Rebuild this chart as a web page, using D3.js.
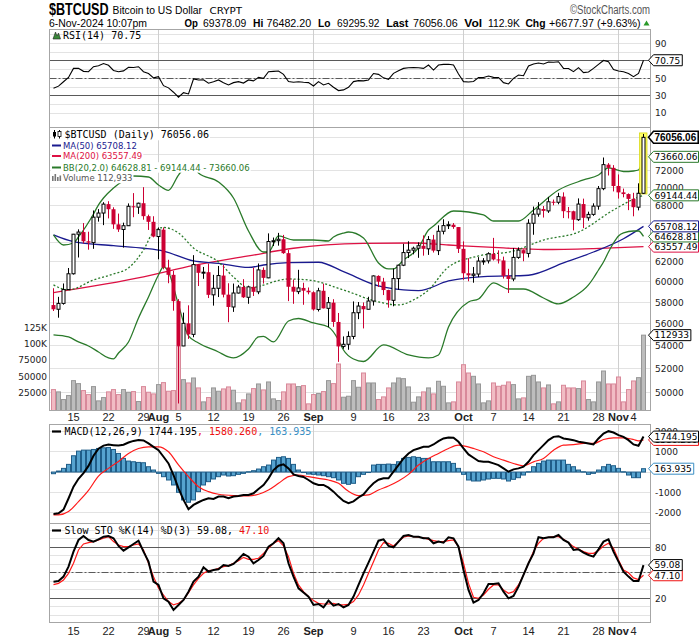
<!DOCTYPE html>
<html><head><meta charset="utf-8">
<script src="https://cdn.jsdelivr.net/npm/d3@7/dist/d3.min.js"></script>
<style>html,body{margin:0;padding:0;background:#fff;}svg{display:block;}</style>
</head><body>
<svg id="chart" width="700" height="639"></svg>
<script>
// ===================== DATA =====================
const firstDate = "2024-07-11";
const lastDate = "2024-11-06";

const opens = [57742,57344,57899,59231,60787,64870,65097,64118,63974,66710,
67163,68154,67585,65927,65372,65777,67912,67813,68255,66819,
66201,64619,65357,61415,60680,58116,53991,56034,55027,61710,
60881,60945,58719,59354,60609,58737,57560,58894,59478,58483,
59493,59012,61175,60381,64094,64178,64333,62880,59504,59027,
59388,59119,58969,57325,59112,57431,57971,56160,53948,54139,
54841,57019,57648,57343,58127,60571,60005,59182,58192,60308,
61649,62940,63192,63394,63648,63329,64301,63143,65181,65790,
65887,65635,63329,60837,60632,60759,62067,62089,62818,62236,
62131,60582,60274,62445,63193,62851,66046,67041,67612,67399,
68418,68362,69002,67367,67361,66432,68161,66642,67014,67929,
69907,72720,72339,70215,69482,69289,68742,67811,69378.09];
const highs = [59359,58526,59824,61366,64900,65388,66066,65133,67442,67598,
68372,68480,67800,67102,66110,68234,69399,68318,70079,66987,
66810,65593,65596,62198,61077,58306,57029,57717,62673,61770,
61470,61818,60680,61572,61687,59847,59817,59686,60252,59608,
61396,61820,61424,64955,64513,65009,64795,63213,60214,61184,
59896,59433,59062,59403,59810,58511,58300,56996,54843,55300,
58088,58029,57992,58534,60625,60633,60381,59210,61316,61689,
63850,64119,63559,64006,64745,64670,64798,65820,66480,66260,
66067,65635,64110,62365,61468,62470,62370,62970,64478,63174,
62523,61284,63417,63480,63263,66482,67881,68375,67939,68969,
68668,69431,69487,67836,67420,68798,68772,67315,68246,70212,
73577,72905,72662,71559,69916,69362,69433,70522,76482.20];
const lows = [57178,56555,57779,59194,60704,62433,63896,63238,63329,66222,
65842,66573,65440,65111,63456,65756,66705,67066,66429,65323,
64532,62248,61236,59850,57210,49121,53973,54620,54767,59574,
60284,58410,57688,58506,58472,56138,57098,58851,58418,57862,
58610,58783,59815,60345,63619,63659,62810,58116,57860,58787,
57768,58768,57218,57136,57420,55673,55712,52598,53745,53653,
54591,56419,55567,57330,57690,59480,58697,57493,57628,59209,
61555,62376,62758,62400,62623,62700,62946,62685,64852,65422,
65442,62896,60190,60043,59900,60460,61689,61824,62128,61821,
60311,58895,60046,62300,62050,62442,64809,66758,66666,67178,
68021,68137,66608,66571,65275,66300,65521,66321,66853,67535,
69729,71436,69590,68779,68918,67482,66803,67459,69295.92];
const closes = [57344,57899,59231,60787,64870,65097,64118,63974,66710,67163,
68154,67585,65927,65372,65777,67912,67813,68255,66819,66201,
64619,65357,61415,60680,58116,53991,56034,55027,61710,60881,
60945,58719,59354,60609,58737,57560,58894,59478,58483,59493,
59012,61175,60381,64094,64178,64333,62880,59504,59027,59388,
59119,58969,57325,59112,57431,57971,56160,53948,54139,54841,
57019,57648,57343,58127,60571,60005,59182,58192,60308,61649,
62940,63192,63394,63648,63329,64301,63143,65181,65790,65887,
65635,63329,60837,60632,60759,62067,62089,62818,62236,62131,
60582,60274,62445,63193,62851,66046,67041,67612,67399,68418,
68362,69002,67367,67361,66432,68161,66642,67014,67929,69907,
72720,72339,70215,69482,69289,68742,67811,69378.09,76056.06];
const volumes = [30240,26760,15120,21170,43850,39310,28730,22680,34780,13100,
18140,26760,30240,22680,30240,26210,27220,12100,34780,26210,
23690,37800,40820,27720,28730,95700,45360,40320,47880,32760,
11590,18140,32760,27720,31250,34270,29230,10080,14620,23690,
31750,38800,29740,41830,16130,13600,26760,38800,38800,34780,
36290,8570,22680,24190,27220,43850,39310,69070,18650,20160,
43850,33770,55440,40320,40320,15120,19150,32760,40320,47880,
46870,34270,11090,19150,26710,32760,23690,42840,35280,10080,
11590,41830,68040,55440,50400,38800,10080,13100,40320,35280,
36790,41830,37800,16130,17640,50400,51910,41830,32760,37300,
8570,11590,36790,32760,32760,31750,43340,15120,11590,41830,
58460,38800,38800,49380,11590,30240,43340,48380,112933];

// Overlay lines: day index into the date list, value
const ma50Days   = [0,4,12,18,22,28,33,39,42,47,53,58,65,70,73,79,86,95,102,108,114,118];
const ma50Values = [64790,64080,63660,63390,63100,62080,61840,61420,61670,61900,61950,61000,59580,59190,59120,60070,60500,60640,61875,63000,64390,65708.12];
const ma200Days   = [0,18,28,39,48,62,72,79,90,98,108,118];
const ma200Values = [58940,60470,61620,62590,63390,63890,63940,63730,63420,63260,63360,63557.49];
const bbMidDays   = [0,3,8,12,15,18,20,22,25,28,33,36,39,47,51,58,65,69,72,75,79,85,92,98,105,112,117,118];
const bbMidValues = [59680,59190,60170,60770,61370,63210,65100,65590,65000,63420,61980,60470,59390,60270,60170,59190,58040,57750,58230,59190,61470,62590,63100,64250,65100,67500,68950,69144.44];
const bbUpDays   = [0,2,4,5,8,9,10,12,13,14,16,19,21,23,25,27,28,29,33,36,39,42,43,45,48,52,55,56,58,59,62,65,67,68,70,73,75,76,80,86,88,93,96,101,106,109,111,114,116,117,118];
const bbUpValues = [64790,63730,63940,64575,67055,68070,68840,69985,70450,70790,71375,71260,70330,69720,71490,72700,72580,71720,70680,68840,65210,63000,63000,64680,64255,64255,64150,64575,64995,65105,64470,61875,61270,61270,62180,63420,65320,65740,67390,66950,66290,66290,67500,69750,70910,71490,72330,71905,71965,72083,73660.06];
const bbLoDays   = [0,3,5,7,9,11,12,13,15,17,19,21,22,23,25,27,29,33,35,36,39,41,42,44,47,49,52,55,57,58,60,62,66,71,75,77,79,83,85,88,91,94,98,101,104,107,108,109,110,111,112,113,114,116,117,118];
const bbLoValues = [54980,54794,54346,53990,53460,52935,52848,53372,54346,56530,58514,60668,61470,60968,57750,54885,54256,53460,53022,52935,53723,54794,54840,54346,56252,56483,56069,55700,54523,53634,52848,52631,54078,53197,52935,53197,55700,58036,58320,59875,59287,59287,58417,57845,58514,59679,60367,61166,61975,63000,63940,64680,65000,65212,65212,64628.81];

const rsi = [38.5,41,46,51,61.4,61.5,58,57.6,63.3,64.5,
67,65,59,57.5,58.5,62.6,62.4,63.3,57.6,55.5,
50.5,51.9,41.5,39,34,28.3,33.5,32,49.2,48,
48.3,44.3,46,48.1,45,42.4,45,46.2,44.5,48.1,
47,51.1,50,57.6,58,58.4,54.5,46.2,45.4,46,
45.4,45,41.2,46.2,42.4,44.3,39.7,35.9,36.7,39.7,
46.2,47.3,47,48.1,55.5,54.5,50.5,48.9,55.7,58.8,
61.4,62.2,62.4,62.2,61.4,65.2,59.5,65.2,66,66.2,
65.2,55,46.2,45.8,46.3,50.8,51,52.7,51.1,51,
45,43.5,50,53.8,53,64.1,66.4,67.5,66.4,68.7,
68.5,69,61.4,61.3,57.6,62.2,56.5,57.2,61.4,66,
70.5,69,60,58.4,57.5,55.5,51.9,55.7,70.75];

const macd = [-2060,-2025,-1850,-1300,-720,-330,-50,300,800,1150,
1300,1350,1323,1300,1340,1450,1530,1570,1552,1405,
1241,1078,751,425,-147,-800,-1372,-1829,-1617,-1486,
-1372,-1290,-1323,-1208,-1208,-1290,-1208,-1176,-1127,-1127,
-1045,-833,-637,-310,98,310,376,180,-114,-196,
-245,-392,-555,-637,-637,-768,-964,-1208,-1421,-1535,
-1440,-1250,-1100,-800,-550,-380,-310,-310,16,343,
669,915,1078,1160,1241,1241,1356,1519,1650,1699,
1683,1487,1160,866,702,539,506,506,425,343,
180,16,131,180,261,506,833,1078,1323,1568,
1731,1764,1650,1617,1568,1487,1454,1405,1356,1650,
1895,2009,1943,1813,1731,1568,1356,1290,1744.195];
const signalDays   = [0,1,3,5,7,9,11,13,15,17,19,21,23,25,27,29,31,33,36,39,41,43,45,47,49,51,53,55,57,59,61,63,65,67,69,71,73,75,77,79,81,82,84,86,88,90,92,94,96,98,100,102,104,106,108,110,112,114,116,117,118];
const signalValues = [-2107,-2107,-1943,-1454,-900,-200,180,520,915,1160,1241,1241,996,350,-229,-719,-964,-1094,-1160,-1176,-1094,-882,-555,-229,-147,-229,-310,-392,-555,-950,-1160,-1127,-882,-686,-441,-114,343,669,915,1160,1323,1290,1160,996,751,588,420,310,500,669,1070,1323,1350,1405,1405,1600,1680,1683,1600,1530,1580.26];
const macdHist = [-82,49,180,376,800,1029,1078,1078,1110,1160,
1192,1208,1110,914,670,539,506,474,457,261,
98,-65,-229,-392,-637,-996,-1372,-1486,-1372,-964,
-637,-474,-343,-229,-147,-196,-180,-114,-65,16,
65,147,261,343,588,719,751,670,376,98,
-16,-98,-114,-147,-180,-229,-278,-392,-555,-604,
-555,-229,-114,-16,343,376,376,392,376,506,
670,719,751,719,670,670,506,506,506,506,
425,180,-114,-392,-441,-441,-392,-343,-310,-310,
-343,-441,-359,-278,-147,16,261,425,539,588,
588,588,588,376,261,98,16,-114,-65,98,
261,376,310,180,16,-147,-278,-278,163.935];

const stoK = [39.6,40.4,45.5,57.3,74.9,88.6,93.3,88.6,86.7,89.4,
92.5,93.3,90.6,81.6,76.1,80,83.9,87.8,74.9,63.1,
39.6,35.7,20,16.1,6.3,12.2,18,27.8,39.6,45.5,
56.5,51.4,53.3,54.1,59.2,58,60.4,65.9,72.2,69,
61.2,65.1,69.8,80.8,84.7,90.6,84.7,61.2,45.5,31.8,
26.7,22,12.2,13.3,9.4,17.3,11.4,13.3,9.4,12.2,
22,35.7,49.4,62,74.9,87.8,89.4,81.6,80,86.7,
93.3,94.5,92.5,92.5,90.6,90.6,84.7,86.7,85.5,91.8,
90.6,80.8,53.3,29.8,14.9,18,25.9,36.9,36.9,37.6,
27.8,20,22.7,33.7,47.5,61.2,72.9,91.8,90.6,91.8,
91.8,94.5,88.6,85.5,76.9,77.6,73.7,71,69,77.6,
86.7,89.4,74.9,63.1,51.4,45.5,40.4,40.4,59.08];
const stoD = [36,37.6,41.6,49.4,61.2,76.9,83.9,85.5,86.7,88.6,
90.6,92.5,86.7,82.7,80.8,80.8,82.7,83.9,76.9,61.2,
45.5,31.8,23.9,16.1,12.2,14.1,18,26.7,35.7,43.5,
49.4,52.5,53.3,55.3,57.3,58.4,61.2,64.3,68.2,65.9,
65.9,67.1,72.9,78.8,84.7,87.8,81.6,69,49.4,35.7,
27.8,22,17.3,14.1,13.3,13.3,14.1,12.2,12.2,12.8,
16.1,23.9,35.7,49.4,63.1,76.9,85.5,84.7,81.6,86.7,
91.8,93.3,92.5,91.8,91.4,89.4,87.8,86.7,86.7,87.8,
88.6,80.8,61.2,37.6,21.2,20,23.9,30.6,35.7,35.7,
29.8,25.9,27.8,35.7,47.5,61.2,74.9,84.7,90.6,91.8,
92.5,92.5,89.4,85.5,80.8,77.6,74.9,72.9,72.9,76.1,
81.6,84.7,78.8,65.1,53.3,50,44,42,47.10];

// ticks and labels
const priceTicks = [50000,52000,54000,56000,58000,60000,62000,64000,66000,68000,70000,72000,74000,76000];
const volTicks = [25000,50000,75000,100000,125000];
const volTickLabels = ["25000","50000","75000","100K","125K"];
const rsiTicks = [10,30,50,70,90];
const macdTicks = [-2000,-1000,0,1000,2000];
const stoTicks = [20,80];
const weekLabelDates = ["2024-07-15","2024-07-22","2024-07-29","2024-08-05","2024-08-12","2024-08-19","2024-08-26","2024-09-09","2024-09-16","2024-09-23","2024-10-07","2024-10-14","2024-10-21","2024-10-28","2024-11-04"];
const monthLabelDates = ["2024-08-01","2024-09-01","2024-10-01","2024-11-01"];
const monthLabels = ["Aug","Sep","Oct","Nov"];

// ===================== DRAWING =====================
const svg = d3.select("#chart");
const parseD = d3.utcParse("%Y-%m-%d");
const dates = d3.utcDay.range(parseD(firstDate), d3.utcDay.offset(parseD(lastDate), 1));
const n = dates.length;
const x = d3.scaleUtc().domain([dates[0], dates[n-1]]).range([53.5, 643.5]);
const PL = 49.5, PR = 650.5;
const P = { rsi:[29.5,127.5], main:[127.5,410.5], macd:[424.5,523.5], sto:[523.5,622.5] };

const yR = d3.scaleLinear().domain([0,100]).range([121.8,34.8]);
const yP = d3.scaleLog().domain([50000,72000]).range([392.7,170.7]);
const yV = d3.scaleLinear().domain([0,125000]).range([409.5,327.2]);
const yM = d3.scaleLinear().domain([-2000,1000]).range([512.7,451.7]);
const yS = d3.scaleLinear().domain([20,80]).range([598.3,547.3]);

const GRID = "#e3e3e3", MONTH = "#cfcfcf", DARK = "#5a5a5a", BORDER = "#a6a6a6";
const RED = "#cc0033", NAVY = "#1a1a8f", MA200C = "#dd1144", GREEN = "#2a7a2a", STEEL = "#3a8fc4";
const AX = "DejaVu Sans", MONO = "DejaVu Sans Mono", NARROW = "'Liberation Sans Narrow','Liberation Sans',Arial,sans-serif";
const crisp = v => Math.round(v - 0.5) + 0.5;
const last = a => a[a.length-1];

// value tags per panel (drawn last), used to hide axis labels that they cover
const tags = [
  {y: yR(last(rsi)), t: last(rsi).toFixed(2), c: "#000"},
  {y: yP(last(bbMidValues)), t: last(bbMidValues).toFixed(2), c: GREEN},
  {y: yP(last(ma200Values)), t: last(ma200Values).toFixed(2), c: MA200C},
  {y: yP(last(bbLoValues)), t: last(bbLoValues).toFixed(2), c: GREEN},
  {y: yP(last(ma50Values)), t: last(ma50Values).toFixed(2), c: NAVY},
  {y: yP(last(bbUpValues)), t: last(bbUpValues).toFixed(2), c: GREEN},
  {y: yP(last(closes)), t: last(closes).toFixed(2), c: "#000", bold: true},
  {y: yV(last(volumes)), t: String(last(volumes)), c: "#000"},
  {y: yM(last(macdHist)), t: last(macdHist).toFixed(3), c: STEEL},
  {y: yM(last(signalValues)), t: last(signalValues).toFixed(3), c: "#ee1111"},
  {y: yM(last(macd)), t: last(macd).toFixed(3), c: "#000"},
  {y: yS(last(stoD)), t: last(stoD).toFixed(2), c: "#ee1111"},
  {y: yS(last(stoK)), t: last(stoK).toFixed(2), c: "#000"}
];
const coveredByTag = yy => tags.some(t => Math.abs(t.y - yy) < 5);

// clip paths
const defs = svg.append("defs");
Object.entries(P).forEach(([k,[t,b]]) => {
  defs.append("clipPath").attr("id","clip-"+k).append("rect")
    .attr("x",PL).attr("y",t).attr("width",PR-PL).attr("height",b-t);
});

function hline(g, y, color, dash, w) {
  g.append("line").attr("x1",PL).attr("x2",PR).attr("y1",crisp(y)).attr("y2",crisp(y))
    .attr("stroke",color).attr("stroke-width",w||1).attr("stroke-dasharray",dash||null);
}
function monthLines(g, key) {
  monthLabelDates.forEach(d => {
    const xx = x(parseD(d));
    g.append("line").attr("x1",xx).attr("x2",xx).attr("y1",P[key][0]).attr("y2",P[key][1])
      .attr("stroke",MONTH).attr("stroke-width",1);
  });
}
function rightLabel(y, txt) {
  if (coveredByTag(y)) return;
  svg.append("text").attr("x",655).attr("y",y+3.3).text(txt)
    .attr("font-family",AX).attr("font-size",9).attr("fill","#222");
}
function tag(o) {
  const g = svg.append("g");
  const p = g.append("path");
  const t = g.append("text").attr("x",654.5).attr("y",o.y+(o.bold?3.6:3.3)).text(o.t)
    .attr("font-family", o.bold ? "'Liberation Sans',Arial,sans-serif" : AX)
    .attr("font-size", o.bold ? 10 : 9).attr("font-weight", o.bold ? "bold" : "normal").attr("fill","#000");
  const tw = t.node().getComputedTextLength();
  const x2 = Math.min(698.5, 654.5 + tw + 2);
  const h = o.bold ? 6 : 5.5;
  p.attr("d",`M648.5,${o.y} L653.5,${o.y-h} L${x2},${o.y-h} L${x2},${o.y+h} L653.5,${o.y+h} Z`)
   .attr("fill","#fff").attr("stroke",o.c).attr("stroke-width",o.bold?1.5:1);
}

// ---------- header ----------
function htxt(xp, yp, s, size, len, opts={}) {
  return svg.append("text").attr("x",xp).attr("y",yp).text(s)
    .attr("font-family",opts.family||NARROW).attr("font-size",size)
    .attr("font-weight",opts.bold?"bold":"normal").attr("fill",opts.fill||"#000")
    .attr("textLength",len).attr("lengthAdjust","spacingAndGlyphs")
    .attr("text-anchor",opts.anchor||"start");
}
htxt(49,14.5,"$BTCUSD",17,59.5,{bold:true});
htxt(112.5,14,"Bitcoin to US Dollar",11,89.5);
htxt(209.5,14,"CRYPT",9.5,32.5,{family:AX});
htxt(570,14,"\u00A9StockCharts.com",12,80,{fill:"#555"});
htxt(49,26.5,"6-Nov-2024 10:07pm",11.5,98);
const hdr = [["Op",184.5,13.4,true],["69378.09",203.1,43.3],["Hi",253.1,10.3,true],["76482.20",266.5,44.7],
  ["Lo",317.9,12.5,true],["69295.92",337.1,42.4],["Last",386.2,22.3,true],["76056.06",413,44.6],
  ["Vol",464.3,17.8,true],["112.9K",488,32],["Chg",525.4,20.1,true],["+6677.97 (+9.63%)",549.1,91.5]];
hdr.forEach(h => htxt(h[1],26.5,h[0],11,h[2],{bold:!!h[3]}));
svg.append("path").attr("d","M643.5,25.5 L649.5,25.5 L646.5,20.5 Z").attr("fill","#2a9a2a");

// ---------- RSI panel ----------
const gR = svg.append("g");
d3.range(10,101,10).forEach(v => hline(gR, yR(v), GRID));
monthLines(gR,"rsi");
hline(gR, yR(70), DARK); hline(gR, yR(30), DARK);
hline(gR, yR(50), DARK, "7,2,2,2");
gR.append("path").datum(rsi).attr("clip-path","url(#clip-rsi)")
  .attr("d", d3.line().x((d,i)=>x(dates[i])).y(d=>yR(d)))
  .attr("fill","none").attr("stroke","#000").attr("stroke-width",1.1);
gR.append("rect").attr("x",PL).attr("y",P.rsi[0]).attr("width",PR-PL).attr("height",P.rsi[1]-P.rsi[0])
  .attr("fill","none").attr("stroke",BORDER);
gR.append("path").attr("d","M53,39 L55.5,32 L57,36 L58.5,33 L60.5,39 Z").attr("fill","#3a8a3a").attr("stroke","#222").attr("stroke-width",0.6);
gR.append("text").attr("x",63).attr("y",39).text("RSI(14) "+last(rsi).toFixed(2))
  .attr("font-family",MONO).attr("font-size",10);
rsiTicks.forEach(v => rightLabel(yR(v), String(v)));

// ---------- Main panel ----------
const gM = svg.append("g");
priceTicks.forEach(v => hline(gM, yP(v), GRID));
monthLines(gM,"main");
const gMc = gM.append("g").attr("clip-path","url(#clip-main)");
// volume
gMc.selectAll("rect.vol").data(volumes).join("rect")
  .attr("x",(d,i)=>x(dates[i])-2).attr("width",4)
  .attr("y",d=>yV(d)).attr("height",d=>Math.max(0,yV(0)-yV(d)+1))
  .attr("fill",(d,i)=> closes[i] >= opens[i] ? "#bdbdbd" : "#f1bcc4")
  .attr("stroke",(d,i)=> closes[i] >= opens[i] ? "#979797" : "#d8899a").attr("stroke-width",1);
// overlays
function overlay(days, vals, color, dash, w) {
  gMc.append("path").datum(days.map((d,k)=>[d,vals[k]]))
    .attr("d", d3.line().curve(d3.curveMonotoneX).x(p=>x(dates[p[0]])).y(p=>yP(p[1])))
    .attr("fill","none").attr("stroke",color).attr("stroke-width",w||1.2).attr("stroke-dasharray",dash||null);
}
overlay(ma200Days, ma200Values, MA200C, null, 1.3);
overlay(ma50Days, ma50Values, NAVY, null, 1.3);
overlay(bbUpDays, bbUpValues, GREEN, null, 1.3);
overlay(bbLoDays, bbLoValues, GREEN, null, 1.3);
overlay(bbMidDays, bbMidValues, GREEN, "2,2", 1.3);
// highlight last bar
const lx = x(dates[n-1]);
gMc.append("rect").attr("x",lx-4).attr("width",7.5).attr("y",yP(highs[n-1])-1).attr("height",yP(lows[n-1])-yP(highs[n-1])+1)
  .attr("fill","#ffff66").attr("stroke","#d4d400").attr("stroke-width",0.7);
// candles
const cg = gMc.selectAll("g.c").data(dates).join("g");
cg.append("line").attr("x1",(d,i)=>x(d)).attr("x2",(d,i)=>x(d))
  .attr("y1",(d,i)=>yP(highs[i])).attr("y2",(d,i)=>yP(lows[i]))
  .attr("stroke",(d,i)=> closes[i]>=opens[i] ? "#000" : RED).attr("stroke-width",1);
cg.append("rect")
  .attr("x",(d,i)=> closes[i]>=opens[i] ? x(d)-1.5 : x(d)-2)
  .attr("width",(d,i)=> closes[i]>=opens[i] ? 3 : 4)
  .attr("y",(d,i)=> yP(Math.max(opens[i],closes[i])))
  .attr("height",(d,i)=> Math.max(1, Math.abs(yP(opens[i])-yP(closes[i]))))
  .attr("fill",(d,i)=> closes[i]>=opens[i] ? "#fff" : RED)
  .attr("stroke",(d,i)=> closes[i]>=opens[i] ? "#000" : "none").attr("stroke-width",1);
gM.append("rect").attr("x",PL).attr("y",P.main[0]).attr("width",PR-PL).attr("height",P.main[1]-P.main[0])
  .attr("fill","none").attr("stroke",BORDER);
// legend
const leg = gM.append("g");
function legLine(yb, txt, color, family, size, xs) {
  const t = leg.append("text").attr("x",xs).attr("y",yb).text(txt)
    .attr("font-family",family).attr("font-size",size).attr("fill",color);
  const bb = t.node().getBBox();
  leg.insert("rect","text").attr("x",51).attr("y",bb.y-0.5).attr("width",bb.x+bb.width-51+1).attr("height",bb.height+0.5).attr("fill","#fff");
  return t;
}
legLine(138.3, "$BTCUSD (Daily) "+last(closes).toFixed(2), "#000", MONO, 10, 64.5);
legLine(148.6, "MA(50) "+last(ma50Values).toFixed(2), NAVY, AX, 8.5, 63);
legLine(159.2, "MA(200) "+last(ma200Values).toFixed(2), MA200C, AX, 8.5, 63);
legLine(170.7, "BB(20,2.0) "+last(bbLoValues).toFixed(2)+" - "+last(bbMidValues).toFixed(2)+" - "+last(bbUpValues).toFixed(2), GREEN, AX, 8.5, 63);
legLine(181.3, "Volume "+d3.format(",")(last(volumes)), "#555", AX, 8.5, 63);
// legend icons
[[145.5,NAVY],[156,MA200C],[167.5,GREEN]].forEach(([yy,c]) =>
  leg.append("line").attr("x1",52).attr("x2",61).attr("y1",yy).attr("y2",yy).attr("stroke",c).attr("stroke-width",2));
leg.append("line").attr("x1",54.5).attr("x2",54.5).attr("y1",130).attr("y2",138.5).attr("stroke","#000");
leg.append("rect").attr("x",53).attr("y",132).attr("width",3).attr("height",4.5).attr("fill","#000");
leg.append("line").attr("x1",59.5).attr("x2",59.5).attr("y1",130).attr("y2",138.5).attr("stroke","#000");
leg.append("rect").attr("x",58).attr("y",131.5).attr("width",3).attr("height",5).attr("fill","#fff").attr("stroke","#000").attr("stroke-width",0.8);
[[52,176],[54.5,174],[57,177],[59.5,175.5]].forEach(([xx,yy]) =>
  leg.append("rect").attr("x",xx).attr("y",yy).attr("width",1.6).attr("height",181-yy).attr("fill","#777"));
// axis labels
priceTicks.forEach(v => rightLabel(yP(v), String(v)));
volTicks.forEach((v,k) => svg.append("text").attr("x",47).attr("y",yV(v)+3.3).text(volTickLabels[k])
  .attr("text-anchor","end").attr("font-family",AX).attr("font-size",9).attr("fill","#222"));

// ---------- MACD panel ----------
const gD = svg.append("g");
macdTicks.forEach(v => hline(gD, yM(v), GRID));
monthLines(gD,"macd");
const gDc = gD.append("g").attr("clip-path","url(#clip-macd)");
gDc.selectAll("rect.h").data(macdHist).join("rect")
  .attr("x",(d,i)=>x(dates[i])-2).attr("width",4)
  .attr("y",d=>Math.min(yM(d),yM(0))).attr("height",d=>Math.max(0.5,Math.abs(yM(d)-yM(0))))
  .attr("fill","#56a3cf").attr("stroke","#1f5d88").attr("stroke-width",1);
gDc.append("path").datum(signalDays.map((d,k)=>[d,signalValues[k]]))
  .attr("d", d3.line().curve(d3.curveMonotoneX).x(p=>x(dates[p[0]])).y(p=>yM(p[1])))
  .attr("fill","none").attr("stroke","#ff1a1a").attr("stroke-width",1.2);
gDc.append("path").datum(macd)
  .attr("d", d3.line().x((d,i)=>x(dates[i])).y(d=>yM(d)))
  .attr("fill","none").attr("stroke","#000").attr("stroke-width",2);
gD.append("rect").attr("x",PL).attr("y",P.macd[0]).attr("width",PR-PL).attr("height",P.macd[1]-P.macd[0])
  .attr("fill","none").attr("stroke",BORDER);
gD.append("line").attr("x1",52).attr("x2",61).attr("y1",431.5).attr("y2",431.5).attr("stroke","#000").attr("stroke-width",2.2);
const mt = gD.append("text").attr("x",64.5).attr("y",435.3).attr("font-family",MONO).attr("font-size",10);
mt.append("tspan").text("MACD(12,26,9) "+last(macd).toFixed(3)).attr("fill","#000");
mt.append("tspan").text(", "+last(signalValues).toFixed(3)).attr("fill","#ee1111");
mt.append("tspan").text(", "+last(macdHist).toFixed(3)).attr("fill",STEEL);
macdTicks.forEach(v => rightLabel(yM(v), String(v)));

// ---------- STO panel ----------
const gS = svg.append("g");
d3.range(0,101,10).forEach(v => { if (yS(v) > P.sto[0] && yS(v) < P.sto[1]) hline(gS, yS(v), GRID); });
monthLines(gS,"sto");
hline(gS, yS(80), DARK); hline(gS, yS(20), DARK);
hline(gS, yS(50), DARK, "7,2,2,2");
const gSc = gS.append("g").attr("clip-path","url(#clip-sto)");
gSc.append("path").datum(stoD).attr("d", d3.line().x((d,i)=>x(dates[i])).y(d=>yS(d)))
  .attr("fill","none").attr("stroke","#ff1a1a").attr("stroke-width",1.2);
gSc.append("path").datum(stoK).attr("d", d3.line().x((d,i)=>x(dates[i])).y(d=>yS(d)))
  .attr("fill","none").attr("stroke","#000").attr("stroke-width",2);
gS.append("rect").attr("x",PL).attr("y",P.sto[0]).attr("width",PR-PL).attr("height",P.sto[1]-P.sto[0])
  .attr("fill","none").attr("stroke",BORDER);
gS.append("line").attr("x1",52).attr("x2",61).attr("y1",530.5).attr("y2",530.5).attr("stroke","#000").attr("stroke-width",2.2);
const st = gS.append("text").attr("x",64.5).attr("y",534.3).attr("font-family",MONO).attr("font-size",10);
st.append("tspan").text("Slow STO %K(14) %D(3) "+last(stoK).toFixed(2)+",").attr("fill","#000");
st.append("tspan").text(" "+last(stoD).toFixed(2)).attr("fill","#ee1111");
stoTicks.forEach(v => rightLabel(yS(v), String(v)));

// ---------- X axis labels ----------
[421.3, 634.8].forEach(yb => {
  weekLabelDates.forEach(d => svg.append("text").attr("x",x(parseD(d))).attr("y",yb)
    .text(String(parseD(d).getUTCDate())).attr("text-anchor","middle")
    .attr("font-family","'Liberation Sans',Arial,sans-serif").attr("font-size",11).attr("fill","#222"));
  monthLabelDates.forEach((d,k) => svg.append("text").attr("x",x(parseD(d))).attr("y",yb)
    .text(monthLabels[k]).attr("text-anchor","middle").attr("font-weight","bold")
    .attr("font-family","'Liberation Sans',Arial,sans-serif").attr("font-size",11).attr("fill","#222"));
});

// ---------- value tags ----------
tags.forEach(tag);
</script>
</body></html>
